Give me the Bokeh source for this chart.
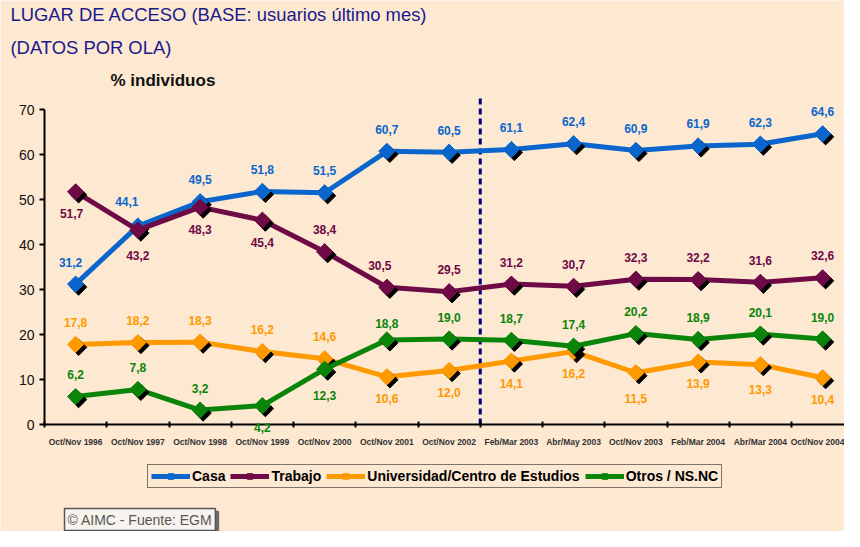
import numpy as np
from bokeh.plotting import figure
from bokeh.models import (ColumnDataSource, FixedTicker, Label, LabelSet,
                          Legend, LegendItem, Range1d)
from bokeh.transform import dodge
from bokeh.core.properties import value
from bokeh.embed import file_html
from bokeh.resources import INLINE

# ---------------- data ----------------
categories = ["Oct/Nov 1996", "Oct/Nov 1997", "Oct/Nov 1998", "Oct/Nov 1999",
              "Oct/Nov 2000", "Oct/Nov 2001", "Oct/Nov 2002", "Feb/Mar 2003",
              "Abr/May 2003", "Oct/Nov 2003", "Feb/Mar 2004", "Abr/Mar 2004",
              "Oct/Nov 2004"]
casa = [31.2, 44.1, 49.5, 51.8, 51.5, 60.7, 60.5, 61.1, 62.4, 60.9, 61.9, 62.3, 64.6]
trabajo = [51.7, 43.2, 48.3, 45.4, 38.4, 30.5, 29.5, 31.2, 30.7, 32.3, 32.2, 31.6, 32.6]
universidad = [17.8, 18.2, 18.3, 16.2, 14.6, 10.6, 12.0, 14.1, 16.2, 11.5, 13.9, 13.3, 10.4]
otros = [6.2, 7.8, 3.2, 4.2, 12.3, 18.8, 19.0, 18.7, 17.4, 20.2, 18.9, 20.1, 19.0]
y_ticks = [0, 10, 20, 30, 40, 50, 60, 70]
series_names = ["Casa", "Trabajo", "Universidad/Centro de Estudios", "Otros / NS.NC"]
separator_after = "Oct/Nov 2002"

# ---------------- style ----------------
BG = "#FDE8D2"
FONT = "Liberation Sans"
colors = ["#0A66CC", "#6E0A45", "#FF9900", "#0A850A"]
W, H = 844, 531
PX_X, PX_Y = 62.25, 4.5          # pixels per category / per percentage point
X0_PX, Y0_PX = 44, 424           # canvas position of the axes origin
sides = [
    ["a"] * 13,
    ["b", "b", "b", "b", "a", "a", "a", "a", "a", "a", "a", "a", "a"],
    ["a", "a", "a", "a", "a", "b", "b", "b", "b", "b", "b", "b", "b"],
    ["a", "a", "a", "b", "b", "a", "a", "a", "a", "a", "a", "a", "a"],
]
dx_tweaks = [{0: -5, 1: -11}, {0: -4, 5: -7}, {}, {}]
dy_tweaks = [{1: 3}, {1: -3}, {9: -4, 11: -3}, {4: -4, 5: -6}]

x_idx = list(range(len(categories)))
x_start = -0.5 - X0_PX / PX_X
y_start = -(H - Y0_PX) / PX_Y

p = figure(width=W, height=H,
           x_range=Range1d(x_start, x_start + W / PX_X),
           y_range=Range1d(y_start, y_start + H / PX_Y),
           output_backend="svg", toolbar_location=None,
           min_border=0,
           background_fill_color=BG, border_fill_color=BG,
           outline_line_color=None)
p.grid.visible = False

# axes (drawn at fixed positions inside the frame)
xa = p.xaxis[0]
xa.fixed_location = 0
xa.bounds = (-0.5, x_start + W / PX_X)
xa.ticker = FixedTicker(ticks=x_idx, minor_ticks=[i - 0.5 for i in range(len(categories) + 1)])
xa.major_label_overrides = {i: c for i, c in enumerate(categories)}
xa.major_tick_line_color = None
xa.major_tick_out = 0
xa.major_tick_in = 0
xa.minor_tick_line_color = "black"
xa.minor_tick_line_width = 2
xa.minor_tick_out = 3
xa.minor_tick_in = 3
xa.axis_line_width = 2
xa.axis_line_color = "black"
xa.major_label_text_font = FONT
xa.major_label_text_font_size = "8.5px"
xa.major_label_text_font_style = "bold"
xa.major_label_text_color = "#333333"
xa.major_label_standoff = 9

ya = p.yaxis[0]
ya.fixed_location = -0.5
ya.ticker = FixedTicker(ticks=y_ticks)
ya.bounds = (y_ticks[0], y_ticks[-1])
ya.axis_line_width = 2
ya.axis_line_color = "black"
ya.major_tick_line_width = 2
ya.major_tick_out = 5
ya.major_tick_in = 0
ya.minor_tick_line_color = None
ya.major_label_text_font = FONT
ya.major_label_text_font_size = "14px"
ya.major_label_text_color = "#111111"
ya.major_label_standoff = 5

# dashed separator between Oct/Nov 2002 and Feb/Mar 2003
sep_x = categories.index(separator_after) + 0.5
p.segment(x0=[sep_x], y0=[0], x1=[sep_x], y1=[(Y0_PX - 105 + 8) / PX_Y],
          line_color="#000080", line_width=3, line_dash="6 4")

items = []
for k, (name, vals, col) in enumerate(zip(series_names, [casa, trabajo, universidad, otros], colors)):
    dx = [dx_tweaks[k].get(i, 0) for i in x_idx]
    dy = [(22 if s == "a" else -22) + dy_tweaks[k].get(i, 0) for i, s in enumerate(sides[k])]
    src = ColumnDataSource(dict(x=x_idx, y=vals,
                                lbl=[f"{v:.1f}".replace(".", ",") for v in vals],
                                dx=dx, dy=dy))
    ln = p.line("x", "y", source=src, line_color=col, line_width=5)
    p.scatter(x=dodge("x", 3 / PX_X), y=dodge("y", -3 / PX_Y), source=src, marker="square",
              angle=np.pi / 4, size=11.5, fill_color="black", line_color="black")
    mk = p.scatter("x", "y", source=src, marker="square", angle=np.pi / 4, size=11.5,
                   fill_color=col, line_color=col)
    p.add_layout(LabelSet(x="x", y="y", text="lbl", source=src, x_offset="dx", y_offset="dy",
                          text_align="center", text_baseline="middle",
                          text_font=value(FONT), text_font_size="12px",
                          text_font_style="bold", text_color=col))
    items.append(LegendItem(label=name, renderers=[ln, mk]))

legend = Legend(items=items, orientation="horizontal", location=(147, 43),
                label_text_font=FONT, label_text_font_size="14px",
                label_text_font_style="bold", label_text_color="black",
                glyph_width=39, glyph_height=14, label_standoff=2, spacing=5,
                padding=3, margin=0, label_height=14,
                border_line_color="black", border_line_width=1.5,
                background_fill_color=BG, background_fill_alpha=1)
p.add_layout(legend)

# titles
p.add_layout(Label(x=10, y=H - 14, x_units="screen", y_units="screen",
                   text="LUGAR DE ACCESO (BASE: usuarios último mes)",
                   text_font=FONT, text_font_size="18.4px", text_color="#1A1A8C",
                   text_baseline="middle"))
p.add_layout(Label(x=10, y=H - 47, x_units="screen", y_units="screen",
                   text="(DATOS POR OLA)",
                   text_font=FONT, text_font_size="18.4px", text_color="#1A1A8C",
                   text_baseline="middle"))
p.add_layout(Label(x=110, y=H - 80, x_units="screen", y_units="screen",
                   text="% individuos", text_font=FONT, text_font_size="17px",
                   text_font_style="bold", text_color="#111111",
                   text_baseline="middle"))

# footer (shadow + box)
footer = "\u00a9 AIMC - Fuente: EGM"
p.add_layout(Label(x=67, y=9, x_units="screen", y_units="screen", text=footer,
                   text_font=FONT, text_font_size="14px", text_color="#6A6A6A",
                   text_baseline="middle", padding=3,
                   background_fill_color="#6A6A6A", border_line_color="#6A6A6A",
                   border_line_width=1.5))
p.add_layout(Label(x=64, y=12, x_units="screen", y_units="screen", text=footer,
                   text_font=FONT, text_font_size="14px", text_color="#555555",
                   text_baseline="middle", padding=3,
                   background_fill_color="#F7F3EE", border_line_color="#555555",
                   border_line_width=1.5))

open("out.html", "w").write(file_html(p, INLINE))
